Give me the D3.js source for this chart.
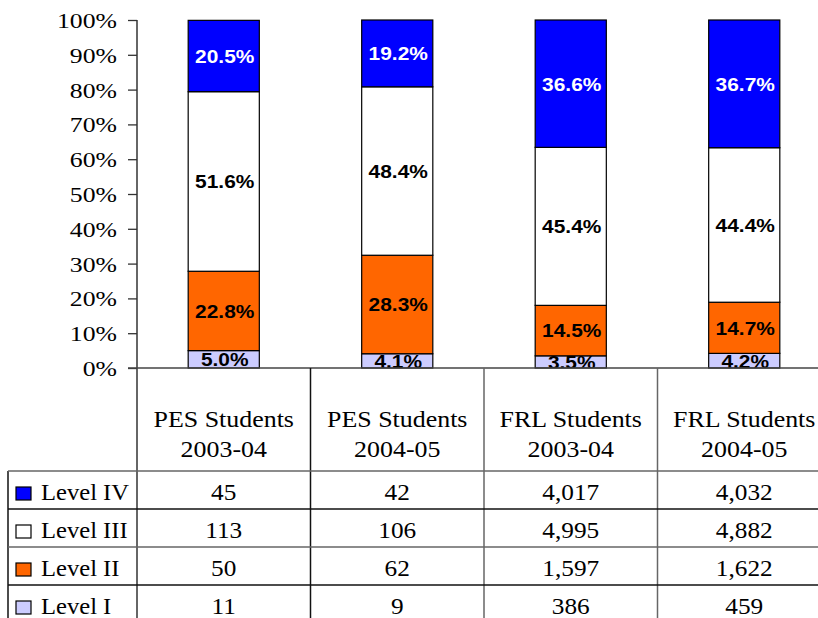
<!DOCTYPE html>
<html>
<head>
<meta charset="utf-8">
<script src="https://cdn.jsdelivr.net/npm/d3@7"></script>
<style>
  body { margin: 0; background: #fff; }
  svg { display: block; }
</style>
</head>
<body>
<div id="chart"></div>
<script>
// columns
const groups = ["PES Students", "PES Students", "FRL Students", "FRL Students"];
const years = ["2003-04", "2004-05", "2003-04", "2004-05"];

// levels, bottom of the stack first
const levels = ["Level I", "Level II", "Level III", "Level IV"];
const levelColors = ["#ccccff", "#ff6600", "#ffffff", "#0000ff"];

// percentages shown on the bars
const pctI = [5.0, 4.1, 3.5, 4.2];
const pctII = [22.8, 28.3, 14.5, 14.7];
const pctIII = [51.6, 48.4, 45.4, 44.4];
const pctIV = [20.5, 19.2, 36.6, 36.7];

// student counts in the table
const countI = ["11", "9", "386", "459"];
const countII = ["50", "62", "1,597", "1,622"];
const countIII = ["113", "106", "4,995", "4,882"];
const countIV = ["45", "42", "4,017", "4,032"];

const yTicks = [0, 0.1, 0.2, 0.3, 0.4, 0.5, 0.6, 0.7, 0.8, 0.9, 1];

const width = 818, height = 618;
const serif = "'Liberation Serif', 'Times New Roman', serif";
const sans = "'Liberation Sans', Arial, sans-serif";
const lineColor = "#333";

const svg = d3.select("#chart").append("svg")
    .attr("width", width)
    .attr("height", height);

const plotLeft = 137, plotTop = 20, plotBottom = 368;

const x = d3.scaleBand()
    .domain(d3.range(groups.length))
    .range([plotLeft, plotLeft + 4 * 173.5])
    .padding(0);

const y = d3.scaleLinear()
    .domain([0, 1])
    .range([plotBottom, plotTop]);

// stack table built from the arrays
const pctByLevel = [pctI, pctII, pctIII, pctIV];
const table = groups.map((g, i) => {
    let row = { idx: i };
    levels.forEach((lv, j) => { row[lv] = pctByLevel[j][i] / 100; });
    return row;
});
const series = d3.stack().keys(levels)(table);

svg.append("clipPath").attr("id", "plotClip")
    .append("rect")
    .attr("x", plotLeft).attr("y", 0)
    .attr("width", width - plotLeft).attr("height", plotBottom);

const barW = x.bandwidth() * 0.41;

const layers = svg.append("g").selectAll("g")
    .data(series)
    .enter()
    .append("g")
    .attr("fill", (d, i) => levelColors[i]);

layers.selectAll("rect")
    .data(d => d)
    .enter()
    .append("rect")
    .attr("x", d => x(d.data.idx) + (x.bandwidth() - barW) / 2)
    .attr("y", d => y(d[1]))
    .attr("width", barW)
    .attr("height", d => y(d[0]) - y(d[1]))
    .attr("stroke", "#000")
    .attr("stroke-width", 1.2);

// value labels inside segments
const labelG = svg.append("g").attr("clip-path", "url(#plotClip)");
series.forEach((s, j) => {
    labelG.selectAll(null)
        .data(s)
        .enter()
        .append("text")
        .attr("transform", d => "translate(" + (x(d.data.idx) + x.bandwidth() / 2 + 1) + "," + ((y(d[0]) + y(d[1])) / 2) + ") scale(1.1,1)")
        .attr("text-anchor", "middle")
        .attr("dy", "0.36em")
        .attr("font-family", sans)
        .attr("font-weight", "bold")
        .attr("font-size", 19)
        .attr("fill", levels[j] === "Level IV" ? "#fff" : "#000")
        .text(d => pctByLevel[j][d.data.idx].toFixed(1) + "%");
});

// y axis
const yAxis = d3.axisLeft(y)
    .tickValues(yTicks)
    .tickFormat(d3.format(".0%"))
    .tickSize(9)
    .tickSizeOuter(0);

const yAxisG = svg.append("g")
    .attr("transform", "translate(" + plotLeft + ",0)")
    .call(yAxis);
yAxisG.select(".domain").remove();
yAxisG.selectAll(".tick line").attr("stroke", lineColor).attr("stroke-width", 1.3);
yAxisG.selectAll(".tick text")
    .attr("font-family", serif)
    .attr("font-size", 22)
    .attr("fill", "#000")
    .attr("x", -20 / 1.17)
    .attr("dy", "0.34em")
    .attr("transform", "scale(1.17,1)");

// axis line running down through the table
svg.append("line")
    .attr("x1", plotLeft).attr("x2", plotLeft)
    .attr("y1", plotTop).attr("y2", height)
    .attr("stroke", lineColor).attr("stroke-width", 1.5);

// x axis line
svg.append("line")
    .attr("x1", plotLeft - 9).attr("x2", width)
    .attr("y1", plotBottom).attr("y2", plotBottom)
    .attr("stroke", "#444").attr("stroke-width", 1.5);

// ----- data table -----
const tableLeft = 8;
const headerBottom = 471;
const rowOrder = ["Level IV", "Level III", "Level II", "Level I"];
const countByLevel = { "Level I": countI, "Level II": countII, "Level III": countIII, "Level IV": countIV };

const rowY = d3.scaleBand()
    .domain(rowOrder)
    .range([headerBottom, headerBottom + 4 * 38]);

// column separators
svg.append("g").selectAll("line")
    .data(d3.range(1, groups.length + 1))
    .enter()
    .append("line")
    .attr("x1", d => x(d - 1) + x.bandwidth())
    .attr("x2", d => x(d - 1) + x.bandwidth())
    .attr("y1", plotBottom).attr("y2", height)
    .attr("stroke", (d, i) => i === 0 ? "#111" : "#666")
    .attr("stroke-width", 1.5);

// left border
svg.append("line")
    .attr("x1", tableLeft).attr("x2", tableLeft)
    .attr("y1", headerBottom).attr("y2", height)
    .attr("stroke", "#111").attr("stroke-width", 1.5);

// row lines
svg.append("g").selectAll("line")
    .data(rowOrder)
    .enter()
    .append("line")
    .attr("x1", tableLeft).attr("x2", width)
    .attr("y1", d => rowY(d)).attr("y2", d => rowY(d))
    .attr("stroke", (d, i) => i % 2 === 0 ? "#666" : "#111")
    .attr("stroke-width", 1.5);

// header text
const header = svg.append("g");
groups.forEach((g, i) => {
    const cx = x(i) + x.bandwidth() / 2;
    header.append("text")
        .attr("transform", "translate(" + cx + ",427) scale(1.08,1)")
        .attr("text-anchor", "middle")
        .attr("font-family", serif)
        .attr("font-size", 24)
        .text(g);
    header.append("text")
        .attr("transform", "translate(" + cx + ",457) scale(1.08,1)")
        .attr("text-anchor", "middle")
        .attr("font-family", serif)
        .attr("font-size", 24)
        .text(years[i]);
});

// row headers with legend swatches
const rowG = svg.append("g").selectAll("g")
    .data(rowOrder)
    .enter()
    .append("g")
    .attr("transform", d => "translate(0," + (rowY(d) + rowY.bandwidth() / 2) + ")");

rowG.append("rect")
    .attr("x", 16).attr("y", -3)
    .attr("width", 15).attr("height", 13)
    .attr("fill", d => levelColors[levels.indexOf(d)])
    .attr("stroke", "#000")
    .attr("stroke-width", 1.2);

rowG.append("text")
    .attr("transform", "translate(41,10) scale(1.07,1)")
    .attr("font-family", serif)
    .attr("font-size", 23)
    .text(d => d);

// counts
rowG.each(function (lv) {
    d3.select(this).selectAll("text.count")
        .data(countByLevel[lv])
        .enter()
        .append("text")
        .attr("class", "count")
        .attr("transform", (d, i) => "translate(" + (x(i) + x.bandwidth() / 2) + ",10) scale(1.1,1)")
        .attr("text-anchor", "middle")
        .attr("font-family", serif)
        .attr("font-size", 23)
        .text(d => d);
});
</script>
</body>
</html>
